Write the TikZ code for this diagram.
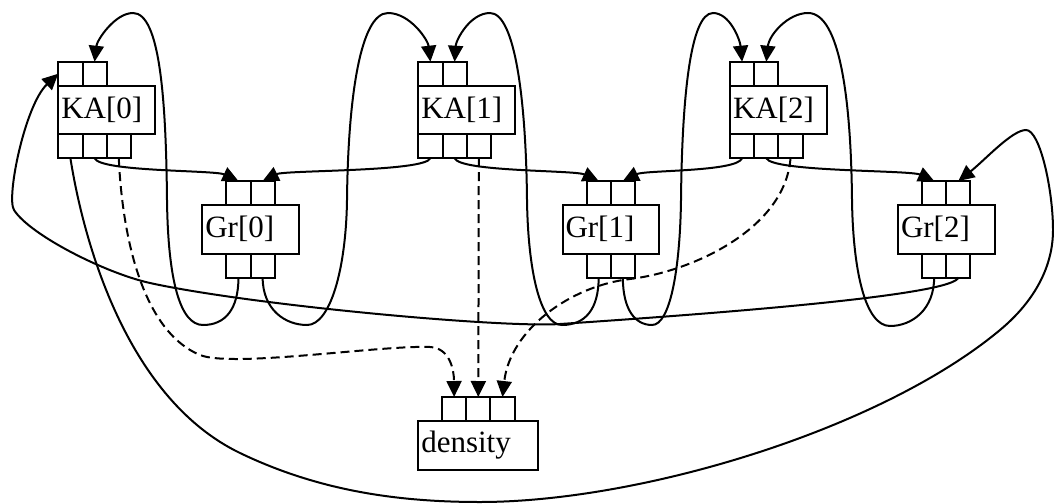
\documentclass[tikz,border=0pt]{standalone}
\usepackage{fontspec}
\setmainfont{Liberation Serif}
\usetikzlibrary{arrows.meta,positioning}

\begin{document}
\begin{tikzpicture}[
  x=1pt,y=-1pt,
  font=\fontsize{31}{36}\selectfont,
  line width=2pt,
  rec/.style={draw,minimum height=48.5pt,text width=90.5pt,align=left,inner xsep=3pt,inner ysep=0pt,outer sep=0pt},
  port/.style={draw,minimum width=24.2pt,minimum height=24pt,inner sep=0pt,outer sep=0pt},
  arr/.style={-{Triangle[length=16pt,width=15pt]}},
  dep/.style={arr,dash pattern=on 9pt off 5pt}
]
  \useasboundingbox (0,0) rectangle (1054,503);

  % record bodies
  \node[rec,anchor=north west] (ka0) at (58.3,85.7) {KA[0]};
  \node[rec,anchor=north west] (ka1) at (418.3,85.7) {KA[1]};
  \node[rec,anchor=north west] (ka2) at (730,85.7) {KA[2]};
  \node[rec,anchor=north west] (gr0) at (202.3,205) {Gr[0]};
  \node[rec,anchor=north west] (gr1) at (562.5,205) {Gr[1]};
  \node[rec,anchor=north west] (gr2) at (898,205) {Gr[2]};
  \node[rec,anchor=north west,text width=114pt] (dens) at (418.3,421) {density};

  % KA ports: two in, three out
  \node[port,anchor=south west] (ka0i0) at (ka0.north west) {};
  \node[port,right=0pt of ka0i0] (ka0i1) {};
  \node[port,anchor=north west] (ka0o0) at (ka0.south west) {};
  \node[port,right=0pt of ka0o0] (ka0o1) {};
  \node[port,right=0pt of ka0o1] (ka0o2) {};

  \node[port,anchor=south west] (ka1i0) at (ka1.north west) {};
  \node[port,right=0pt of ka1i0] (ka1i1) {};
  \node[port,anchor=north west] (ka1o0) at (ka1.south west) {};
  \node[port,right=0pt of ka1o0] (ka1o1) {};
  \node[port,right=0pt of ka1o1] (ka1o2) {};

  \node[port,anchor=south west] (ka2i0) at (ka2.north west) {};
  \node[port,right=0pt of ka2i0] (ka2i1) {};
  \node[port,anchor=north west] (ka2o0) at (ka2.south west) {};
  \node[port,right=0pt of ka2o0] (ka2o1) {};
  \node[port,right=0pt of ka2o1] (ka2o2) {};

  % Gr ports: two in, two out, centred
  \node[port,anchor=south east] (gr0i0) at (gr0.north) {};
  \node[port,right=0pt of gr0i0] (gr0i1) {};
  \node[port,anchor=north east] (gr0o0) at (gr0.south) {};
  \node[port,right=0pt of gr0o0] (gr0o1) {};

  \node[port,anchor=south east] (gr1i0) at (gr1.north) {};
  \node[port,right=0pt of gr1i0] (gr1i1) {};
  \node[port,anchor=north east] (gr1o0) at (gr1.south) {};
  \node[port,right=0pt of gr1o0] (gr1o1) {};

  \node[port,anchor=south east] (gr2i0) at (gr2.north) {};
  \node[port,right=0pt of gr2i0] (gr2i1) {};
  \node[port,anchor=north east] (gr2o0) at (gr2.south) {};
  \node[port,right=0pt of gr2o0] (gr2o1) {};

  % density ports
  \node[port,anchor=south] (densi1) at (dens.north) {};
  \node[port,left=0pt of densi1] (densi0) {};
  \node[port,right=0pt of densi1] (densi2) {};

  % KA -> Gr
  \draw[arr] (ka0o1.south) .. controls (100,172) and (215,170) .. (gr0i0.north);
  \draw[arr] (ka1o0.south) .. controls (425,172) and (285,170) .. (gr0i1.north);
  \draw[arr] (ka1o1.south) .. controls (460,172) and (575,170) .. (gr1i0.north);
  \draw[arr] (ka2o0.south) .. controls (737,172) and (645,170) .. (gr1i1.north);
  \draw[arr] (ka2o1.south) .. controls (772,172) and (910,170) .. (gr2i0.north);

  % Gr -> KA loops over the top
  \draw[arr] (gr0o0.south) .. controls +(0,32) and (225,325) .. (203,325)
    .. controls (180,325) and (168,280) .. (167,200)
    .. controls (166,100) and (160,13) .. (133,13)
    .. controls (115,13) and (97,40) .. (ka0i1.north);
  \draw[arr] (gr0o1.south) .. controls +(0,32) and (285,325) .. (307,325)
    .. controls (330,325) and (346,270) .. (347,200)
    .. controls (348,100) and (360,13) .. (388,13)
    .. controls (410,13) and (428,40) .. (ka1i0.north);
  \draw[arr] (gr1o0.south) .. controls +(0,32) and (585,325) .. (562,325)
    .. controls (540,325) and (528,270) .. (527,200)
    .. controls (526,100) and (515,13) .. (490,13)
    .. controls (470,13) and (456,40) .. (ka1i1.north);
  \draw[arr] (gr1o1.south) .. controls +(0,32) and (635,325) .. (652,325)
    .. controls (670,325) and (680,270) .. (681,200)
    .. controls (682,100) and (690,13) .. (713,13)
    .. controls (730,13) and (740,40) .. (ka2i0.north);
  \draw[arr] (gr2o0.south) .. controls +(0,32) and (912,326) .. (890,326)
    .. controls (865,326) and (853,270) .. (852,200)
    .. controls (851,100) and (840,13) .. (808,13)
    .. controls (788,13) and (769,35) .. (ka2i1.north);

  % Gr[2] back to KA[0]
  \draw[arr] (gr2o1.south) .. controls (954,292) and (800,308) .. (560,324)
    .. controls (500,328) and (250,305) .. (150,283)
    .. controls (105,273) and (30,235) .. (14,210)
    .. controls (6,197.5) and (25,105) .. (ka0i0.west);

  % KA[0] round the bottom to Gr[2]
  \draw[arr] (ka0o0.south) .. controls (85,250) and (130,400) .. (240,453)
    .. controls (320,491.5) and (400,502) .. (480,502)
    .. controls (640,502) and (880,430) .. (1000,330)
    .. controls (1036,300) and (1053,265) .. (1053,230)
    .. controls (1053,190) and (1040,130) .. (1026,130)
    .. controls (1012,130) and (985,160) .. (gr2i1.north);

  % KA -> density
  \draw[dep] (ka0o2.south) .. controls (122,230) and (140,330) .. (200,355)
    .. controls (232,368) and (380,345) .. (430,347)
    .. controls (450,348) and (454,370) .. (densi0.north);
  \draw[dep] (ka1o2.south) -- (densi1.north);
  \draw[dep] (ka2o2.south) .. controls (785,230) and (690,272) .. (630,279)
    .. controls (570,286) and (510,330) .. (densi2.north);
\end{tikzpicture}
\end{document}
